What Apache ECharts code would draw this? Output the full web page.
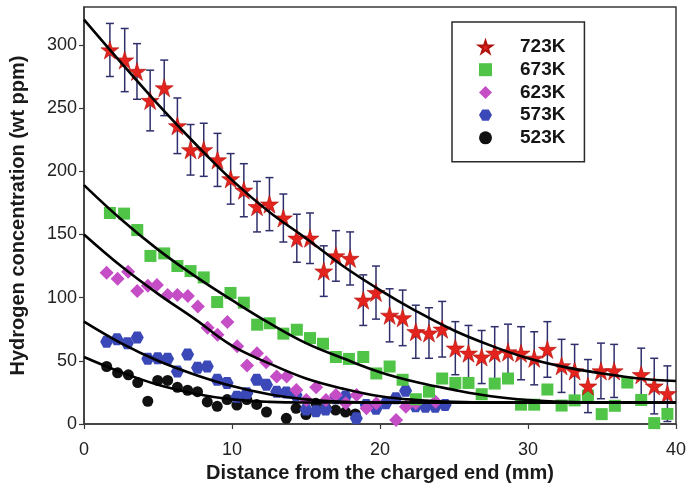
<!DOCTYPE html>
<html>
<head>
<meta charset="utf-8">
<script src="https://cdn.jsdelivr.net/npm/echarts@6/dist/echarts.min.js"></script>
<style>
html,body{margin:0;padding:0;background:#fff;}
#c{width:689px;height:491px;}
</style>
</head>
<body>
<div id="c"></div>
<script>
// ---- data ----
const seriesNames = ['723K', '673K', '623K', '573K', '523K'];
const xTicks = [0, 10, 20, 30, 40];
const yTicks = [0, 50, 100, 150, 200, 250, 300];

const x723 = [1.75,2.75,3.58,4.47,5.42,6.31,7.2,8.09,9.02,9.91,10.8,11.69,12.53,13.47,14.38,15.27,16.2,17.02,17.98,18.87,19.73,20.65,21.53,22.42,23.31,24.2,25.09,25.98,26.87,27.75,28.65,29.53,30.42,31.31,32.27,33.15,34.05,34.93,35.82,37.65,38.53,39.42];
const y723 = [296,288,279,256,266,236,217,217,209,194,185,172,174,163,147,147,121,133,131,98,104,86,84,73,72,75,60,56,53,56,57,56,52,59,46,42,30,42,42,39,30,24];
const err723 = [21,25,22,24,22,22,20,21,21,20,21,20,21,19,19,20,20,20,21,20,21,21,22,21,20,22,21,22,21,21,22,21,21,22,21,21,21,22,21,21,22,22];

const x673 = [1.75,2.71,3.6,4.49,5.42,6.31,7.2,8.09,9.0,9.9,10.8,11.7,12.55,13.47,14.38,15.27,16.15,17.02,17.9,18.87,19.75,20.65,21.53,22.42,23.31,24.2,25.09,25.98,26.87,27.75,28.65,29.53,30.42,31.31,32.27,33.15,34.05,34.98,35.87,36.71,37.65,38.53,39.42];
const y673 = [167,166.5,153.5,133,135,125,121,116,96.5,103.7,96,78.6,79.7,71.5,74.6,68,63.5,53,51.5,53,40,45.5,35,19.6,25.6,36,32.5,32.5,23.6,32,36,15.3,15.3,27.3,14.6,18.7,22.5,7.8,14.4,32.8,19,0.7,8];

const x623 = [1.53,2.27,2.98,3.6,4.31,4.93,5.65,6.31,7.02,7.69,8.35,9.02,9.69,10.35,11.02,11.69,12.31,13.02,13.69,14.35,15.02,15.69,16.35,17.02,17.69,18.42,19.09,19.75,21.09,21.75,22.42,23.75];
const y623 = [119.6,115,120.5,105.3,109.5,110,102,102,101.3,93,76.2,70.6,80.7,61.5,46.2,56,48.8,37.5,37.5,27,19,29,19,23,16.4,23,12.4,16.4,3.2,13.7,16.4,17.7];

const x573 = [1.53,2.23,2.93,3.6,4.31,4.98,5.65,6.31,7.0,7.67,8.33,9.0,9.67,10.33,11.0,11.67,12.33,13.02,13.67,14.33,15.0,15.67,16.33,17.0,17.67,18.4,19.07,19.73,20.4,21.07,21.73,22.4,23.07,23.73,24.4];
const y573 = [65,67,64,68.4,51.7,52,51.7,41.5,55,44.6,45.5,35,32.5,21.5,24.4,35,31,25.6,25,23,11.5,10,11.5,20.4,21.7,4.5,15,12,16.4,20.4,26.4,14,13.7,13.7,15];

const x523 = [1.53,2.27,3.0,3.63,4.31,4.98,5.65,6.31,7.0,7.67,8.33,9.0,9.67,10.33,11.0,11.67,12.33,13.67,14.33,15.0,15.67,16.33,17.0,17.67,18.33];
const y523 = [45.5,40.5,38.9,32.8,18,34.5,34.5,29,26.7,25.6,17.5,14,19.3,15,19.3,15.5,9.5,4.5,12.4,7.5,16.4,13,11,9.5,8];

// fitted curves, read at these distances
const fitX = [0,2.5,5,7.5,10,12.5,15,17.5,20,22.5,25,27.5,30,32.5,35,37.5,40];
const fit723 = [320,286,253,222,193,168,147,125,106,89,74,62,52,45,40,36,34];
const fit673 = [189,162,138,117,98,80,64,52,41,33,27,22,19,17.5,17,17,17];
const fit623 = [150,125,103,83,62,48,36,28,22,19,17.5,17,17,17,17,17,17];
const fit573 = [81,64,50,39,30,23.5,19.5,17.5,17,17,17,17,17,17,17,17,17];
const fit523 = [53,41,31,24,19.5,17.5,17,17,17,17,17,17,17,17,17,17,17];

// ---- build ----
const zip = (xs, ys) => xs.map((v, i) => [v, ys[i]]);
const STAR = 'path://M50,0 L61.2,34.5 L97.6,34.5 L68.2,55.9 L79.4,90.5 L50,69.1 L20.6,90.5 L31.8,55.9 L2.4,34.5 L38.8,34.5 Z';
const HEX = 'path://M25,0 L75,0 L100,43.3 L75,86.6 L25,86.6 L0,43.3 Z';
const colors = {
  '723K': '#e3231d', '673K': '#4fc447', '623K': '#c54ec6', '573K': '#3a48b8', '523K': '#111111'
};
const FONT = 'Liberation Sans, Arial, sans-serif';

function fitSeries(ys) {
  return {
    type: 'line', data: zip(fitX, ys), smooth: 0.4, symbol: 'none',
    lineStyle: { color: '#000', width: 2.6 }, z: 6, silent: true, legendHoverLink: false
  };
}

const errData = x723.map((v, i) => [v, y723[i], err723[i]]);

const chart = echarts.init(document.getElementById('c'), null, { renderer: 'canvas' });
chart.setOption({
  animation: false,
  backgroundColor: '#ffffff',
  grid: { left: 82, right: 9, top: 7, bottom: 67, show: true, borderColor: '#3a3a3a', borderWidth: 1.5, backgroundColor: 'transparent' },
  xAxis: {
    type: 'value', min: 0, max: 40, interval: 10,
    name: 'Distance from the charged end (mm)', nameLocation: 'middle', nameGap: 36,
    nameTextStyle: { fontFamily: FONT, fontWeight: 'bold', fontSize: 20, color: '#1a1a1a' },
    axisLine: { show: true, lineStyle: { color: '#3a3a3a', width: 1.5 } },
    axisTick: { show: true, length: 5, lineStyle: { color: '#3a3a3a', width: 1.2 } },
    axisLabel: { margin: 17, fontFamily: FONT, fontSize: 18, color: '#222', customValues: xTicks },
    splitLine: { show: false }
  },
  yAxis: {
    type: 'value', min: 0, max: 330, interval: 50,
    name: 'Hydrogen concentration (wt ppm)', nameLocation: 'middle', nameGap: 56,
    nameTextStyle: { fontFamily: FONT, fontWeight: 'bold', fontSize: 20, color: '#1a1a1a' },
    axisLine: { show: true, lineStyle: { color: '#3a3a3a', width: 1.5 } },
    axisTick: { show: true, length: 5, lineStyle: { color: '#3a3a3a', width: 1.2 }, customValues: yTicks },
    axisLabel: { margin: 7, fontFamily: FONT, fontSize: 18, color: '#222', customValues: yTicks },
    splitLine: { show: false }
  },
  legend: {
    data: seriesNames, orient: 'vertical', left: 452, top: 22,
    padding: [15, 19, 14, 26], itemGap: 2.7, itemWidth: 13, itemHeight: 13,
    borderColor: '#2a2a2a', borderWidth: 1.5, backgroundColor: '#fff',
    textStyle: { fontFamily: FONT, fontWeight: 'bold', fontSize: 19, color: '#151515', lineHeight: 20, padding: [0, 0, 0, 23] }
  },
  series: [
    {
      type: 'custom', name: 'err', data: errData, z: 2, silent: true,
      renderItem: function (params, api) {
        const x = api.value(0), y = api.value(1), e = api.value(2);
        const top = api.coord([x, y + e]);
        const bot = api.coord([x, y - e]);
        const c = 4;
        const st = { stroke: '#2f2f6c', lineWidth: 1.5 };
        return {
          type: 'group', children: [
            { type: 'line', shape: { x1: top[0], y1: top[1], x2: bot[0], y2: bot[1] }, style: st },
            { type: 'line', shape: { x1: top[0] - c, y1: top[1], x2: top[0] + c, y2: top[1] }, style: st },
            { type: 'line', shape: { x1: bot[0] - c, y1: bot[1], x2: bot[0] + c, y2: bot[1] }, style: st }
          ]
        };
      }
    },
    { type: 'scatter', name: '523K', data: zip(x523, y523), symbol: 'circle', symbolSize: 11, itemStyle: { color: colors['523K'], opacity: 1 }, z: 3 },
    { type: 'scatter', name: '573K', data: zip(x573, y573), symbol: HEX, symbolSize: [13, 12], itemStyle: { color: colors['573K'], opacity: 1 }, z: 3 },
    { type: 'scatter', name: '623K', data: zip(x623, y623), symbol: 'diamond', symbolSize: 14, itemStyle: { color: colors['623K'], opacity: 1 }, z: 3 },
    { type: 'scatter', name: '673K', data: zip(x673, y673), symbol: 'rect', symbolSize: 12, itemStyle: { color: colors['673K'], opacity: 1 }, z: 3 },
    { type: 'scatter', name: '723K', data: zip(x723, y723), symbol: STAR, symbolSize: 18, itemStyle: { color: colors['723K'], borderColor: '#b0120e', borderWidth: 0.6, opacity: 1 }, z: 4 },
    fitSeries(fit723), fitSeries(fit673), fitSeries(fit623), fitSeries(fit573), fitSeries(fit523)
  ]
});
</script>
</body>
</html>
